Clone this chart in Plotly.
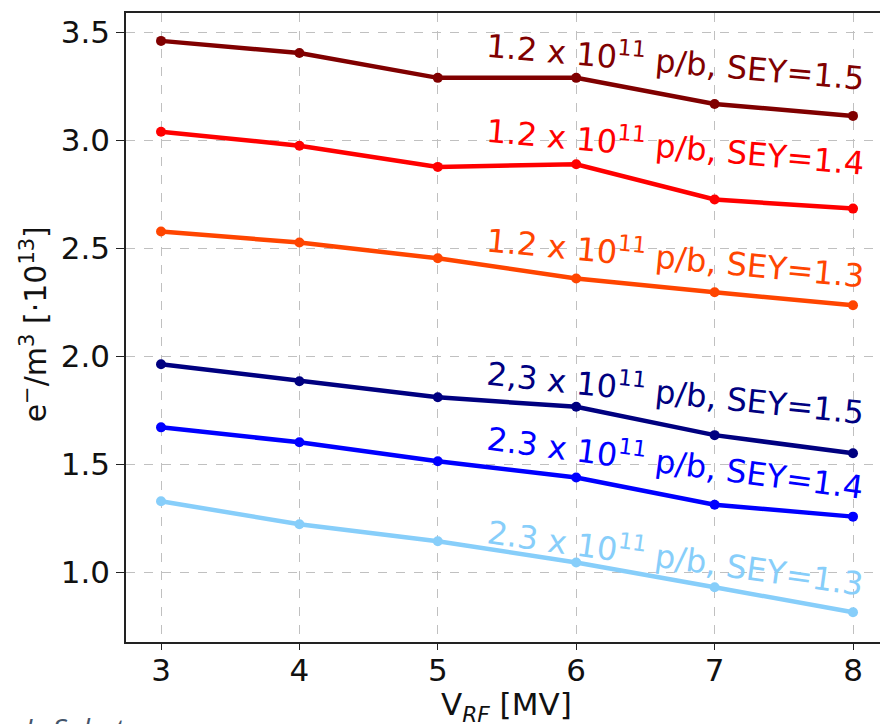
import plotly.graph_objects as go

v_rf = [3, 4, 5, 6, 7, 8]

n12_sey15 = [3.46, 3.404, 3.289, 3.289, 3.168, 3.113]
n12_sey14 = [3.04, 2.975, 2.877, 2.889, 2.726, 2.684]
n12_sey13 = [2.578, 2.527, 2.454, 2.361, 2.297, 2.237]
n23_sey15 = [1.964, 1.885, 1.811, 1.767, 1.636, 1.552]
n23_sey14 = [1.672, 1.603, 1.515, 1.440, 1.314, 1.259]
n23_sey13 = [1.330, 1.224, 1.145, 1.047, 0.932, 0.817]

series = [
    (n12_sey15, "#800000", "1.2 x 10<sup>11</sup> p/b, SEY=1.5", 6.72, 3.372, 5),
    (n12_sey14, "#ff0000", "1.2 x 10<sup>11</sup> p/b, SEY=1.4", 6.72, 2.980, 5),
    (n12_sey13, "#ff4500", "1.2 x 10<sup>11</sup> p/b, SEY=1.3", 6.72, 2.463, 5.5),
    (n23_sey15, "#000080", "2,3 x 10<sup>11</sup> p/b, SEY=1.5", 6.72, 1.840, 6),
    (n23_sey14, "#0000ff", "2.3 x 10<sup>11</sup> p/b, SEY=1.4", 6.72, 1.517, 7.5),
    (n23_sey13, "#87cefa", "2.3 x 10<sup>11</sup> p/b, SEY=1.3", 6.72, 1.078, 8),
]

fig = go.Figure()
for vals, col, label, ax, ay, ang in series:
    fig.add_trace(go.Scatter(
        x=v_rf, y=vals, mode="lines+markers",
        line=dict(color=col, width=4.5),
        marker=dict(color=col, size=10),
        showlegend=False,
    ))
    fig.add_annotation(
        x=ax, y=ay, xref="x", yref="y", text=label, showarrow=False,
        textangle=ang, xanchor="center", yanchor="middle",
        font=dict(family="DejaVu Sans", size=32, color=col),
    )

fig.add_annotation(
    x=-0.122, y=0.505, xref="paper", yref="paper",
    text="e<sup>−</sup>/m<sup>3</sup> [·10<sup>13</sup>]",
    textangle=-90, showarrow=False, xanchor="center", yanchor="middle",
    font=dict(family="DejaVu Sans", size=30, color="#111111"),
)
fig.add_annotation(
    x=0.504, y=-0.103, xref="paper", yref="paper",
    text="V<sub><i>RF</i></sub> [MV]", showarrow=False,
    xanchor="center", yanchor="middle",
    font=dict(family="DejaVu Sans", size=31, color="#111111"),
)
fig.add_annotation(
    x=-0.137, y=-0.103, xref="paper", yref="paper",
    text="<i>L. Sabato</i>", showarrow=False,
    xanchor="left", yanchor="top",
    font=dict(family="Open Sans", size=28, color="#44546a"),
)

fig.update_layout(
    width=880, height=724,
    margin=dict(l=126, r=0, t=13, b=82),
    paper_bgcolor="white", plot_bgcolor="white",
    font=dict(family="DejaVu Sans", color="#111111"),
)
fig.update_xaxes(
    range=[2.747, 8.195], tickvals=v_rf, ticktext=[str(v) for v in v_rf],
    showline=True, linecolor="#222222", linewidth=1.5, mirror=True,
    ticks="outside", ticklen=6, tickcolor="#222222",
    ticklabelstandoff=-6,
    showgrid=True, gridcolor="#c0c0c0", griddash="dash", gridwidth=1,
    zeroline=False, tickfont=dict(size=31),
)
fig.update_yaxes(
    range=[0.679, 3.589], tickvals=[1.0, 1.5, 2.0, 2.5, 3.0, 3.5],
    ticktext=["1.0", "1.5", "2.0", "2.5", "3.0", "3.5"],
    showline=True, linecolor="#222222", linewidth=1.5, mirror=False,
    ticks="outside", ticklen=8, tickcolor="#222222",
    showgrid=True, gridcolor="#c0c0c0", griddash="dash", gridwidth=1,
    zeroline=False, tickfont=dict(size=31),
)

fig.write_html("out.html")
